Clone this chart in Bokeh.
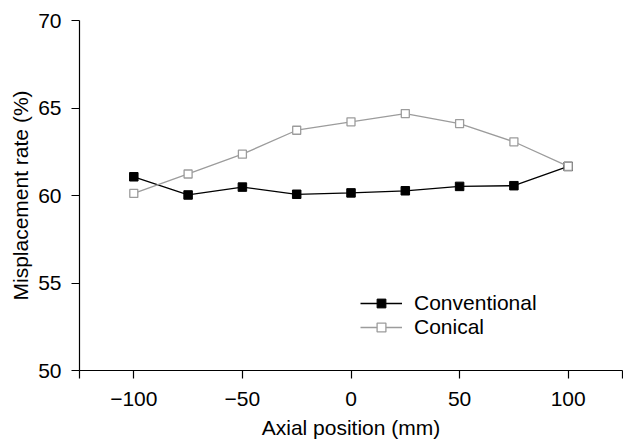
from bokeh.plotting import figure
from bokeh.models import Range1d, FixedTicker, Legend, LegendItem
from bokeh.embed import file_html
from bokeh.resources import INLINE

positions = [-100, -75, -50, -25, 0, 25, 50, 75, 100]
conventional = [61.07, 60.03, 60.48, 60.07, 60.15, 60.27, 60.52, 60.56, 61.66]
conical = [60.12, 61.23, 62.36, 63.73, 64.21, 64.68, 64.11, 63.07, 61.66]

x_ticks = [-125, -100, -50, 0, 50, 100, 125]
x_tick_labels = ["", "\u2212100", "\u221250", "0", "50", "100", ""]
y_ticks = [50, 55, 60, 65, 70]

FONT = "Liberation Sans"
FS = "21px"

p = figure(width=623, height=441, output_backend="svg", toolbar_location=None,
           x_range=Range1d(-125, 125), y_range=Range1d(50, 70),
           min_border_left=79, min_border_right=1, min_border_top=20, min_border_bottom=70)
p.outline_line_color = None
p.xgrid.visible = False
p.ygrid.visible = False
p.background_fill_color = "white"
p.border_fill_color = "white"

l1 = p.line(positions, conventional, line_color="black", line_width=1.3)
m1 = p.scatter(positions, conventional, marker="square", size=8.5, fill_color="black", line_color="black")
l2 = p.line(positions, conical, line_color="#9c9c9c", line_width=1.3)
m2 = p.scatter(positions, conical, marker="square", size=8, fill_color="white", line_color="#9c9c9c", line_width=1.3)

p.xaxis.ticker = FixedTicker(ticks=x_ticks)
p.xaxis.major_label_overrides = {t: s for t, s in zip(x_ticks, x_tick_labels)}
p.yaxis.ticker = FixedTicker(ticks=y_ticks)

for ax in (p.xaxis[0], p.yaxis[0]):
    ax.major_tick_in = 0
    ax.major_tick_out = 8
    ax.minor_tick_line_color = None
    ax.axis_line_color = "black"
    ax.major_tick_line_color = "black"
    ax.axis_line_width = 1.2
    ax.major_tick_line_width = 1.2
    ax.major_label_text_font = FONT
    ax.major_label_text_font_size = FS
    ax.major_label_text_color = "black"
    ax.axis_label_text_font = FONT
    ax.axis_label_text_font_size = FS
    ax.axis_label_text_font_style = "normal"
    ax.axis_label_text_color = "black"

p.xaxis.axis_label = "Axial position (mm)"
p.yaxis.axis_label = "Misplacement rate (%)"
p.xaxis.major_label_standoff = 13
p.xaxis.axis_label_standoff = 7
p.yaxis.major_label_standoff = 10
p.yaxis.axis_label_standoff = 3

legend = Legend(items=[LegendItem(label="Conventional", renderers=[l1, m1]),
                       LegendItem(label="Conical", renderers=[l2, m2])],
                location=(281, 31), orientation="vertical")
legend.border_line_color = None
legend.background_fill_alpha = 0
legend.padding = 0
legend.margin = 0
legend.spacing = 0
legend.glyph_width = 42
legend.glyph_height = 22
legend.label_height = 22
legend.label_standoff = 12
legend.label_text_font = FONT
legend.label_text_font_size = FS
legend.label_text_color = "black"
p.add_layout(legend)

open("out.html", "w").write(file_html(p, INLINE))
